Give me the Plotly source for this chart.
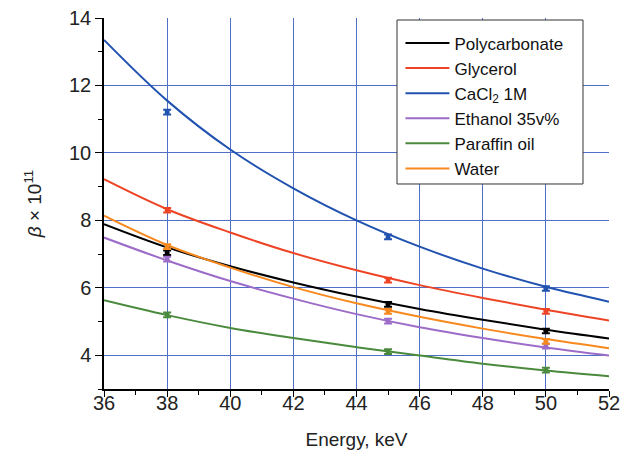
import plotly.graph_objects as go

# Fitted curves
energy_fit = [36, 38, 40, 42, 44, 46, 48, 50, 52]
poly_fit = [7.89, 7.20, 6.64, 6.16, 5.74, 5.37, 5.05, 4.76, 4.50]
glyc_fit = [9.22, 8.33, 7.64, 7.03, 6.52, 6.08, 5.70, 5.35, 5.03]
cacl_fit = [13.35, 11.55, 10.10, 8.95, 8.00, 7.22, 6.57, 6.03, 5.59]
etha_fit = [7.49, 6.81, 6.20, 5.68, 5.22, 4.83, 4.51, 4.23, 3.99]
paraf_fit = [5.63, 5.19, 4.81, 4.51, 4.24, 3.99, 3.75, 3.55, 3.38]
water_fit = [8.14, 7.27, 6.60, 6.02, 5.54, 5.14, 4.79, 4.48, 4.21]

# Measured points
energy_pts = [38, 45, 50]
poly_pts = [7.04, 5.51, 4.72]
glyc_pts = [8.30, 6.23, 5.30]
cacl_pts = [11.21, 7.51, 5.98]
etha_pts = [6.85, 5.01, 4.27]
paraf_pts = [5.20, 4.11, 3.56]
water_pts = [7.22, 5.30, 4.41]
err = [0.07, 0.07, 0.07]

names = ["Polycarbonate", "Glycerol", "CaCl<sub>2</sub> 1M", "Ethanol 35v%", "Paraffin oil", "Water"]
colors = ["#000000", "#ee4426", "#2152b0", "#9c6cc8", "#4a8a3c", "#f7891f"]
fits = [poly_fit, glyc_fit, cacl_fit, etha_fit, paraf_fit, water_fit]
pts = [poly_pts, glyc_pts, cacl_pts, etha_pts, paraf_pts, water_pts]

fig = go.Figure()
for name, c, f in zip(names, colors, fits):
    fig.add_trace(go.Scatter(x=energy_fit, y=f, mode="lines", name=name,
                             line=dict(color=c, width=2, shape="spline")))
for name, c, p in zip(names, colors, pts):
    fig.add_trace(go.Scatter(x=energy_pts, y=p, mode="markers", showlegend=False,
                             marker=dict(color=c, size=5),
                             error_y=dict(type="data", array=err, color=c, thickness=2, width=4)))

font = "Liberation Sans, Arial, sans-serif"
grid = "#4f6fc6"
fig.add_shape(type="rect", xref="paper", yref="paper", x0=0.5802, x1=0.9485, y0=0.5526, y1=0.9946,
              fillcolor="white", line=dict(color="#333", width=1), layer="above")
fig.update_layout(
    width=620, height=453,
    margin=dict(l=104, r=11, t=18, b=64, autoexpand=False),
    paper_bgcolor="white", plot_bgcolor="white",
    font=dict(family=font, size=20, color="#222"),
    showlegend=True,
    legend=dict(x=0.587, y=0.98, xanchor="left", yanchor="top",
                bgcolor="rgba(0,0,0,0)", borderwidth=0, itemwidth=44,
                font=dict(size=17, color="#111"), tracegroupgap=0),
    xaxis=dict(range=[36, 52], dtick=2, tick0=36, showgrid=True, gridcolor=grid, gridwidth=1,
               showline=True, linecolor="black", linewidth=1.5, ticks="outside", ticklen=6,
               tickcolor="black", zeroline=False, ticklabeloverflow="allow", automargin=False,
               ticklabelstandoff=-11,
               minor=dict(dtick=1, ticks="outside", ticklen=4, tickcolor="black", showgrid=False),
               title=dict(text="Energy, keV", font=dict(size=19), standoff=20)),
    yaxis=dict(range=[3, 14], tickvals=[4, 6, 8, 10, 12, 14], showgrid=True, gridcolor=grid, gridwidth=1,
               showline=True, linecolor="black", linewidth=1.5, ticks="outside", ticklen=7,
               tickcolor="black", zeroline=False, automargin=False, ticklabeloverflow="allow",
               minor=dict(dtick=1, ticks="outside", ticklen=4, tickcolor="black", showgrid=False),
               title=dict(text="<i>β</i> × 10<sup>11</sup>", font=dict(size=19), standoff=22)),
)
fig.write_html("out.html", config={"displayModeBar": False},
               post_script="document.body.style.margin='0';document.body.style.overflow='hidden';")
